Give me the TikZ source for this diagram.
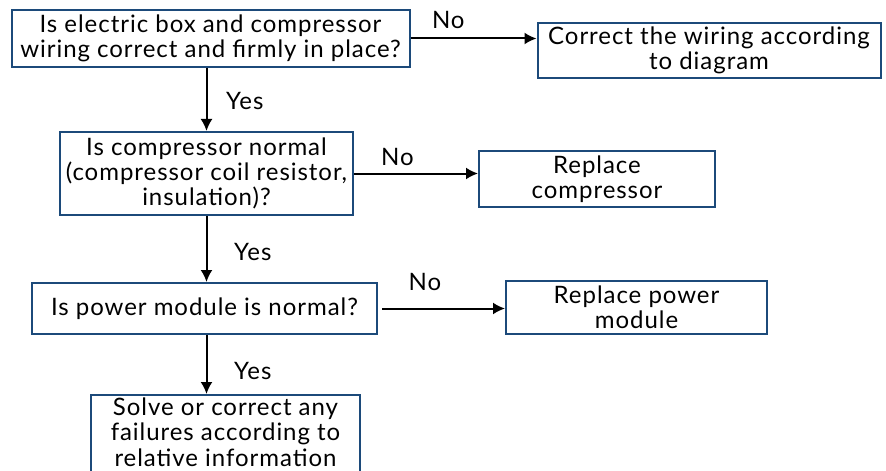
\documentclass[tikz,border=0pt]{standalone}
\usepackage{fontspec}
\setmainfont{Lato}[LetterSpace=4]
\usetikzlibrary{positioning,arrows.meta}
\definecolor{boxblue}{RGB}{28,74,122}

\begin{document}
\begin{tikzpicture}[
  box/.style={draw=boxblue, line width=1pt, align=center, inner sep=0pt, font=\fontsize{12}{12.6}\selectfont},
  arrow/.style={-{Latex[length=6pt,width=6pt]}, line width=1pt},
  lbl/.style={font=\fontsize{12}{12.6}\selectfont}
]
  \useasboundingbox (0,0) rectangle (443pt,-235pt);

  \node[box, minimum width=199pt, minimum height=28.5pt] (check) at (105.25pt,-19.25pt) {Is electric box and compressor\\wiring correct and firmly in place?};
  \node[box, minimum width=171.5pt, minimum height=27.5pt, right=63pt of check, yshift=-6pt] (wiring) {Correct the wiring according\\to diagram};

  \node[box, minimum width=146.5pt, minimum height=41.5pt, below=31.5pt of check, xshift=-2pt] (comp) {Is compressor normal\\(compressor coil resistor,\\insulation)?};
  \node[box, minimum width=118pt, minimum height=28pt, right=62pt of comp, yshift=-2.75pt] (repcomp) {Replace\\compressor};

  \node[box, minimum width=172.5pt, minimum height=25.5pt, below=33pt of comp, xshift=-1pt] (power) {Is power module is normal?};
  \node[box, minimum width=130.5pt, minimum height=26.5pt, right=63.5pt of power, yshift=0.5pt] (reppower) {Replace power\\module};

  % box runs off the bottom edge, as in the scan
  \node[box, minimum width=134.5pt, inner ysep=1.5pt, below=29.5pt of power, xshift=10.5pt] (solve) {Solve or correct any\\failures according to\\relative information\rule[-8pt]{0pt}{8pt}};

  \draw[arrow] (check.east) -- node[lbl, pos=0.3, above=1pt] {No} (check.east -| wiring.west);
  \draw[arrow] (comp.east) -- node[lbl, pos=0.35, above=0pt] {No} (comp.east -| repcomp.west);
  \draw[arrow, shorten <=2pt] (power.east) -- node[lbl, pos=0.37, above=5pt] {No} (power.east -| reppower.west);

  \draw[arrow] (comp.north |- check.south) -- node[lbl, pos=0.52, right=6pt] {Yes} (comp.north);
  \draw[arrow] (comp.south) -- node[lbl, pos=0.54, right=10pt] {Yes} (comp.south |- power.north);
  \draw[arrow] (comp.south |- power.south) -- node[lbl, pos=0.61, right=10pt] {Yes} (comp.south |- solve.north);
\end{tikzpicture}
\end{document}
